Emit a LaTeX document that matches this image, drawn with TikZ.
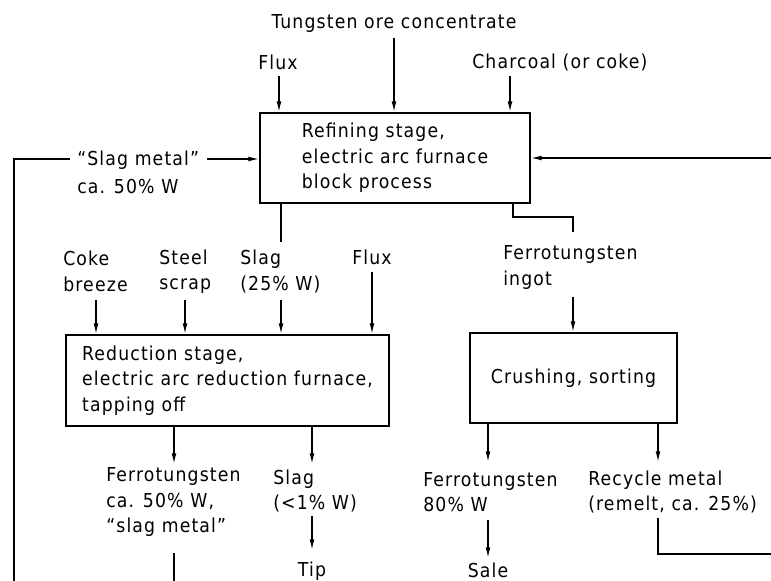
\documentclass[tikz,border=0pt]{standalone}
\usepackage{fontspec}
\setmainfont[LetterSpace=6]{DejaVu Sans Condensed}
\usetikzlibrary{arrows.meta}
\begin{document}
\begin{tikzpicture}[x=0.75pt,y=-0.75pt,
  every node/.style={font=\fontsize{14.4}{19}\selectfont},
  lbl/.style={inner sep=0pt,align=left},
  procbox/.style={draw,line width=1.4pt,align=left,inner sep=0pt},
  conn/.style={line width=1pt},
  arr/.style={conn,-{Latex[length=8pt,width=3.6pt]}}]
\useasboundingbox (0,0) rectangle (771,581);
% process boxes
\node[procbox,minimum width=202.5pt,minimum height=67.5pt] (refine) at (395,158)
  {Refining stage,\\electric arc furnace\\block process};
\node[procbox,minimum width=242.25pt,minimum height=68.25pt] (reduce) at (227.5,380.5)
  {Reduction stage,\\electric arc reduction furnace,\\tapping off};
\node[procbox,minimum width=155.25pt,minimum height=67.5pt] (crush) at (573.5,378)
  {Crushing, sorting};
% labels
\node[lbl] (tung) at (394,24) {Tungsten ore concentrate};
\node[lbl] (fluxa) at (278,62) {Flux};
\node[lbl,anchor=west] (charcoal) at (472,62) {Charcoal (or coke)};
\node[lbl,anchor=west] (slagmetal) at (77,160) {“Slag metal”};
\node[lbl,anchor=west] (slagpct) at (77,187) {ca. 50\% W};
\node[lbl,anchor=west] (coke) at (63,271.5) {Coke\\breeze};
\node[lbl,anchor=west] (steel) at (159,271.5) {Steel\\scrap};
\node[lbl,anchor=west] (slagb) at (240,271.5) {Slag\\(25\% W)};
\node[lbl,anchor=west] (fluxb) at (352,257) {Flux};
\node[lbl,anchor=west] (ingot) at (503,267.5) {Ferrotungsten\\ingot};
\node[lbl,anchor=west] (fefifty) at (106,502) {Ferrotungsten\\ca. 50\% W,\\“slag metal”};
\node[lbl,anchor=west] (slagc) at (273,491) {Slag\\(<1\% W)};
\node[lbl,anchor=west] (feeighty) at (423,492) {Ferrotungsten\\80\% W};
\node[lbl,anchor=west] (recycle) at (588,492) {Recycle metal\\(remelt, ca. 25\%)};
\node[lbl] (tip) at (312,571) {Tip};
\node[lbl] (sale) at (488,570) {Sale};
% free ends
\coordinate (tungA) at (394,38);
\coordinate (fluxA) at (279,76);
\coordinate (charA) at (510,76);
\coordinate (rightA) at (771,158);
\coordinate (slagOut) at (281,242);
\coordinate (ingotA) at (513,217);
\coordinate (ingotB) at (573,217);
\coordinate (ingotC) at (573,232);
\coordinate (ingotD) at (573,297);
\coordinate (cokeA) at (96,300);
\coordinate (steelA) at (185,300);
\coordinate (slagA) at (281,300);
\coordinate (fluxB) at (372,272);
\coordinate (redOutA) at (174,464);
\coordinate (redOutB) at (312,464);
\coordinate (feDown) at (174,553);
\coordinate (feBottom) at (174,581);
\coordinate (tipA) at (312,516);
\coordinate (tipB) at (312,550);
\coordinate (crOutA) at (488,462);
\coordinate (crOutB) at (658,462);
\coordinate (saleA) at (488,520);
\coordinate (saleB) at (488,558);
\coordinate (recA) at (658,518);
\coordinate (recB) at (658,554);
\coordinate (recC) at (771,554);
\coordinate (leftBottom) at (14,581);
\coordinate (leftTop) at (14,159);
\coordinate (leftEnd) at (70,159);
\coordinate (smA) at (207,159);
% refining inputs
\draw[arr] (tungA) -- (tungA |- refine.north);
\draw[arr] (fluxA) -- (fluxA |- refine.north);
\draw[arr] (charA) -- (charA |- refine.north);
\draw[arr] (rightA) -- (rightA -| refine.east);
\draw[conn] (leftBottom) -- (leftTop) -- (leftEnd);
\draw[arr] (smA) -- (smA -| refine.west);
% refining outputs
\draw[conn] (slagOut |- refine.south) -- (slagOut);
\draw[conn] (ingotA |- refine.south) -- (ingotA) -- (ingotB) -- (ingotC);
\draw[arr] (ingotD) -- (ingotD |- crush.north);
% reduction inputs
\draw[arr] (cokeA) -- (cokeA |- reduce.north);
\draw[arr] (steelA) -- (steelA |- reduce.north);
\draw[arr] (slagA) -- (slagA |- reduce.north);
\draw[arr] (fluxB) -- (fluxB |- reduce.north);
% reduction outputs
\draw[arr] (redOutA |- reduce.south) -- (redOutA);
\draw[arr] (redOutB |- reduce.south) -- (redOutB);
\draw[conn] (feDown) -- (feBottom);
\draw[arr] (tipA) -- (tipB);
% crushing outputs
\draw[arr] (crOutA |- crush.south) -- (crOutA);
\draw[arr] (crOutB |- crush.south) -- (crOutB);
\draw[arr] (saleA) -- (saleB);
\draw[conn] (recA) -- (recB) -- (recC);
\end{tikzpicture}
\end{document}
